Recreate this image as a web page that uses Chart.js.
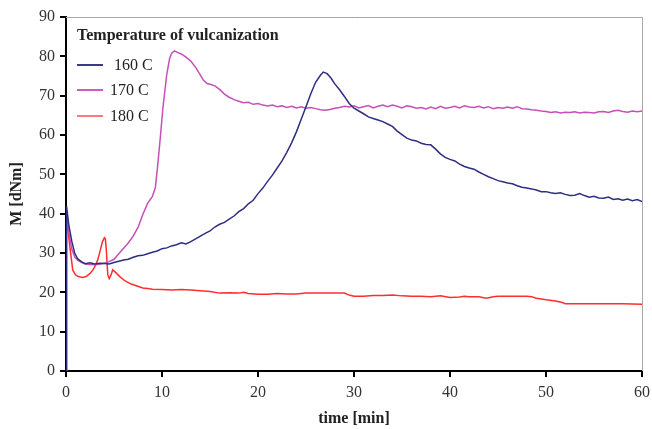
<!DOCTYPE html>
<html>
<head>
<meta charset="utf-8">
<script src="https://cdn.jsdelivr.net/npm/chart.js@4"></script>
<style>
  html, body { margin: 0; padding: 0; background: #fff; }
  #wrap { position: relative; width: 652px; height: 429px; }
  #legend { position: absolute; left: 77px; top: 25px; font-family: 'Liberation Serif', serif; color: #222; }
  #legend .title { font-weight: bold; font-size: 16px; line-height: 20px; white-space: nowrap; }
  #legend .item { position: absolute; left: 0; width: 120px; height: 20px; font-size: 16px; line-height: 20px; }
  #legend .item span.swatch { position: absolute; left: 0; top: 9px; width: 26px; height: 2px; }
  #legend .item span.lbl { position: absolute; left: 33px; top: 0; white-space: pre; }
</style>
</head>
<body>
<div id="wrap">
  <canvas id="chart" width="652" height="429"></canvas>
  <div id="legend">
    <div class="title">Temperature of vulcanization</div>
    <div class="item" style="top:30px"><span class="swatch" style="background:#3a3a8a"></span><span class="lbl"> 160 C</span></div>
    <div class="item" style="top:55px"><span class="swatch" style="background:#cc5cc0"></span><span class="lbl">170 C</span></div>
    <div class="item" style="top:81px"><span class="swatch" style="background:#ff7a7a"></span><span class="lbl">180 C</span></div>
  </div>
</div>
<script>
// Serie de date (timp [min], M [dNm])
const SERIES_NAMES = ['160 C', '170 C', '180 C'];
const X_TICKS = [0, 10, 20, 30, 40, 50, 60];
const Y_TICKS = [0, 10, 20, 30, 40, 50, 60, 70, 80, 90];

const t160 = [0, 0.05, 0.3, 0.6, 0.9, 1.2, 1.6, 2, 2.5, 3, 3.5, 4, 4.5, 5, 5.5, 6, 6.5, 7, 7.5, 8, 8.5, 9, 9.5, 10,
  10.5, 11, 11.5, 12, 12.5, 13, 13.5, 14, 14.5, 15, 15.5, 16, 16.5, 17, 17.5, 18, 18.5, 19, 19.5, 20,
  20.5, 21, 21.5, 22, 22.5, 23, 23.5, 24, 24.5, 25, 25.5, 26, 26.5, 26.8, 27.2, 27.6, 28, 28.5, 29, 29.5, 30,
  30.5, 31, 31.5, 32, 32.5, 33, 33.5, 34, 34.5, 35, 35.5, 36, 36.5, 37, 37.5, 38, 38.5, 39, 39.5, 40,
  40.5, 41, 41.5, 42, 42.5, 43, 43.5, 44, 44.5, 45, 45.5, 46, 46.5, 47, 47.5, 48, 48.5, 49, 49.5, 50,
  50.5, 51, 51.5, 52, 52.5, 53, 53.5, 54, 54.5, 55, 55.5, 56, 56.5, 57, 57.5, 58, 58.5, 59, 59.5, 60];
const m160 = [0, 42, 37, 33, 30, 28.6, 27.8, 27.3, 27.5, 27.2, 27.4, 27.3, 27.2, 27.6, 27.9, 28.2, 28.4, 28.9, 29.3, 29.4, 29.8, 30.2, 30.5, 31.1,
  31.3, 31.8, 32.1, 32.6, 32.3, 32.9, 33.6, 34.3, 35.0, 35.6, 36.6, 37.3, 37.8, 38.6, 39.4, 40.5, 41.3, 42.5, 43.4, 45.1,
  46.5, 48.2, 49.8, 51.6, 53.4, 55.6, 58, 60.8, 64, 67.2, 70.5, 73.4, 75.2, 76, 75.6, 74.5, 73, 71.5, 69.8, 68, 66.8,
  66.1, 65.4, 64.6, 64.2, 63.8, 63.4, 62.8, 62.2, 61, 60.1, 59.2, 58.7, 58.5, 57.9, 57.6, 57.5, 56.4, 55.2, 54.3, 53.8,
  53.4, 52.6, 52.0, 51.6, 51.3, 50.6, 50.0, 49.4, 48.9, 48.4, 48.1, 47.8, 47.6, 47.1, 46.7, 46.5, 46.3, 46.0, 45.6, 45.6,
  45.3, 45.1, 45.3, 44.9, 44.6, 44.7, 45.1, 44.6, 44.2, 44.4, 44.0, 43.9, 44.2, 43.6, 43.8, 43.4, 43.7, 43.3, 43.6, 43.1];

const t170 = [0, 0.05, 0.3, 0.6, 0.9, 1.2, 1.6, 2, 2.5, 3, 3.5, 4, 4.5, 5, 5.5, 6, 6.5, 7, 7.5, 8, 8.5, 9, 9.3, 9.5,
  9.8, 10.1, 10.5, 10.8, 11.0, 11.3, 11.6, 12, 12.5, 13, 13.5, 14, 14.3, 14.7, 15, 15.5, 16, 16.5, 17, 17.5,
  18, 18.5, 19, 19.5, 20, 20.5, 21, 21.5, 22, 22.5, 23, 23.5, 24, 24.5, 25, 25.5, 26, 26.5, 27, 27.5, 28,
  28.5, 29, 29.5, 30, 30.5, 31, 31.5, 32, 32.5, 33, 33.5, 34, 34.5, 35, 35.5, 36, 36.5, 37, 37.5, 38,
  38.5, 39, 39.5, 40, 40.5, 41, 41.5, 42, 42.5, 43, 43.5, 44, 44.5, 45, 45.5, 46, 46.5, 47, 47.5, 48,
  48.5, 49, 49.5, 50, 50.5, 51, 51.5, 52, 52.5, 53, 53.5, 54, 54.5, 55, 55.5, 56, 56.5, 57, 57.5, 58,
  58.5, 59, 59.5, 60];
const m170 = [0, 40, 35, 31, 29, 28.2, 27.6, 27.2, 27.1, 27.0, 27.2, 27.4, 27.8, 28.4, 29.8, 31.2, 32.6, 34.3, 36.5, 39.8, 42.6, 44.4, 46.5, 51,
  58.7, 67, 75.5, 79.5, 80.8, 81.4, 81.0, 80.6, 79.8, 78.8, 77.2, 75.2, 74, 73.1, 72.9, 72.5, 71.6, 70.4, 69.6, 69.0,
  68.6, 68.2, 68.3, 67.8, 68.0, 67.6, 67.4, 67.6, 67.2, 67.4, 67.0, 67.3, 66.9, 67.2, 66.8, 67.0, 66.7, 66.4, 66.3, 66.5, 66.8,
  67.0, 67.3, 67.1, 67.4, 66.9, 67.2, 67.5, 66.9, 67.3, 67.6, 67.2, 67.6, 67.3, 66.9, 67.4, 67.2, 66.8, 67.0, 66.6, 67.1,
  66.7, 67.3, 66.8, 67.0, 67.3, 66.9, 67.4, 67.1, 67.0, 67.3, 66.9, 67.2, 66.7, 67.0, 66.8, 67.1, 66.8, 67.2, 66.7, 66.6,
  66.4, 66.3, 66.1, 66.0, 65.7, 65.9, 65.6, 65.8, 65.7, 65.9, 65.6, 65.8, 65.7, 65.6, 65.9, 66.0, 65.7, 66.1, 66.3, 66.0,
  65.8, 66.1, 65.9, 66.1];

const t180 = [0, 0.05, 0.2, 0.4, 0.7, 1.0, 1.3, 1.7, 2.1, 2.5, 2.8, 3.1, 3.3, 3.6, 3.8, 4.0, 4.1, 4.2, 4.35, 4.5, 4.7, 4.86,
  5.2, 5.6, 6, 6.3, 6.8, 7.4, 8, 8.5, 9, 10, 11, 12, 13, 14, 15, 16, 17, 18, 18.5, 19, 20, 21, 22, 23, 24, 25,
  26, 27, 28, 29, 29.5, 30, 31, 32, 33, 34, 35, 36, 37, 38, 39, 40, 41, 41.5, 42, 43, 43.8, 44.5, 45, 46, 47, 48,
  48.5, 49, 50, 51, 51.7, 52, 55, 58, 60];
const m180 = [0, 41, 36, 31.6, 25.7, 24.4, 24.0, 23.8, 24.0, 24.8, 25.7, 27, 28.2, 31, 32.9, 33.9, 33.6, 30.8, 24.5, 23.5, 24.5, 25.7,
  25.0, 24.0, 23.2, 22.7, 22.1, 21.6, 21.1, 21.0, 20.8, 20.7, 20.6, 20.7, 20.6, 20.4, 20.2, 19.8, 19.9, 19.8, 20.0, 19.7, 19.5, 19.5, 19.7, 19.6, 19.6, 19.8,
  19.8, 19.8, 19.8, 19.8, 19.3, 19.0, 19.0, 19.2, 19.2, 19.3, 19.1, 19.0, 19.0, 18.9, 19.1, 18.7, 18.8, 19.0, 18.9, 18.9, 18.5, 18.9, 19.0, 19.0, 19.0, 19.0,
  18.9, 18.5, 18.1, 17.8, 17.4, 17.1, 17.1, 17.1, 17.0];

const COLORS = ['#2e2e80', '#c650b8', '#ff2e2e'];

const toPoints = (ts, ms) => ts.map((t, i) => ({ x: t, y: ms[i] }));

const FONT = "'Liberation Serif', 'Times New Roman', serif";

// Chenar gri sus si dreapta
const frame = {
  id: 'frame',
  beforeDatasetsDraw(chart) {
    const { ctx, chartArea: a } = chart;
    ctx.save();
    ctx.strokeStyle = '#a8a8a8';
    ctx.lineWidth = 1;
    ctx.beginPath();
    ctx.moveTo(a.left, a.top + 0.5);
    ctx.lineTo(a.right + 0.5, a.top + 0.5);
    ctx.lineTo(a.right + 0.5, a.bottom);
    ctx.stroke();
    ctx.restore();
  }
};

new Chart(document.getElementById('chart'), {
  type: 'line',
  data: {
    datasets: [
      { label: SERIES_NAMES[0], data: toPoints(t160, m160), borderColor: COLORS[0] },
      { label: SERIES_NAMES[1], data: toPoints(t170, m170), borderColor: COLORS[1] },
      { label: SERIES_NAMES[2], data: toPoints(t180, m180), borderColor: COLORS[2] }
    ]
  },
  options: {
    responsive: false,
    animation: false,
    devicePixelRatio: 1,
    layout: { padding: { top: 17, right: 10, left: 0, bottom: 0 } },
    elements: {
      point: { radius: 0 },
      line: { borderWidth: 1.5, tension: 0 }
    },
    plugins: {
      legend: { display: false },
      tooltip: { enabled: false }
    },
    scales: {
      x: {
        type: 'linear',
        min: 0,
        max: 60,
        afterFit: (s) => { s.height = 58; s.paddingRight = 0; s.paddingLeft = 0; },
        afterBuildTicks: (s) => { s.ticks = X_TICKS.map(v => ({ value: v })); },
        border: { color: '#000', width: 2 },
        grid: { drawOnChartArea: false, tickLength: 6, color: '#000', lineWidth: 2 },
        ticks: { font: { family: FONT, size: 16 }, color: '#333', padding: 6, maxRotation: 0 },
        title: { display: true, text: 'time [min]', font: { family: FONT, size: 16, weight: 'bold' }, color: '#222', padding: { top: 0, bottom: 1 } }
      },
      y: {
        min: 0,
        max: 90,
        afterFit: (s) => { s.width = 66; },
        afterBuildTicks: (s) => { s.ticks = Y_TICKS.map(v => ({ value: v })); },
        border: { color: '#000', width: 2 },
        grid: { drawOnChartArea: false, tickLength: 6, color: '#000', lineWidth: 2 },
        ticks: { font: { family: FONT, size: 16 }, color: '#333', padding: 5 },
        title: { display: true, text: 'M [dNm]', font: { family: FONT, size: 16, weight: 'bold' }, color: '#222', padding: { top: 7, bottom: 0 } }
      }
    }
  },
  plugins: [frame]
});
</script>
</body>
</html>
